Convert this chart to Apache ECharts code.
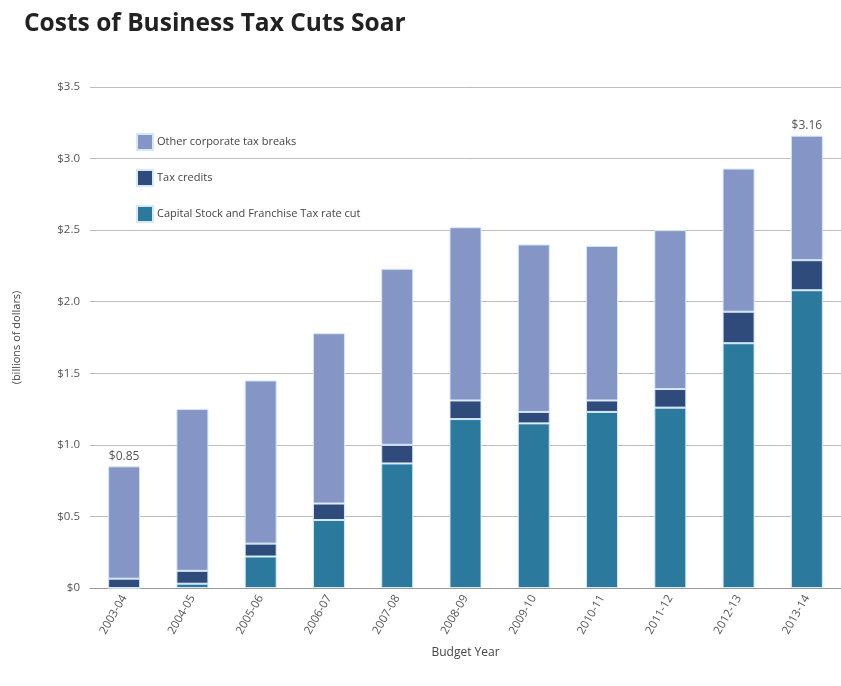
<!DOCTYPE html>
<html>
<head>
<meta charset="utf-8">
<script src="https://cdn.jsdelivr.net/npm/echarts@6/dist/echarts.min.js"></script>
<style>
html,body{margin:0;padding:0;background:#fff;}
#chart{width:841px;height:686px;}
</style>
</head>
<body>
<div id="chart"></div>
<script>
var years = ['2003-04','2004-05','2005-06','2006-07','2007-08','2008-09','2009-10','2010-11','2011-12','2012-13','2013-14'];
var capitalStock = [0, 0.03, 0.22, 0.475, 0.87, 1.18, 1.15, 1.23, 1.26, 1.71, 2.08];
var taxCredits = [0.065, 0.09, 0.09, 0.115, 0.13, 0.13, 0.08, 0.08, 0.13, 0.22, 0.21];
var otherBreaks = [0.785, 1.13, 1.14, 1.19, 1.23, 1.21, 1.17, 1.08, 1.11, 1.00, 0.87];
var labeledYears = ['2003-04', '2013-14'];
var yTicks = ['$0','$0.5','$1.0','$1.5','$2.0','$2.5','$3.0','$3.5'];

var chart = echarts.init(document.getElementById('chart'));
var border = {borderColor:'#d4e8f6', borderWidth:1};
function style(c){ return Object.assign({color:c}, border); }

chart.setOption({
  animation:false,
  title:{
    text:'Costs of Business Tax Cuts Soar',
    left:19, top:7,
    textStyle:{fontFamily:'Open Sans', fontWeight:'bold', fontSize:24.5, color:'#222'}
  },
  legend:{
    orient:'vertical', left:131, top:128, itemGap:18,
    itemWidth:16, itemHeight:16, icon:'rect',
    data:['Other corporate tax breaks','Tax credits','Capital Stock and Franchise Tax rate cut'],
    textStyle:{fontFamily:'Open Sans', fontSize:11, color:'#444', padding:[0,0,0,-1]}
  },
  grid:{left:90, top:87, width:755, height:501},
  xAxis:{
    type:'category', data:years,
    name:'Budget Year', nameLocation:'middle', nameGap:59,
    nameTextStyle:{fontFamily:'Open Sans', fontSize:12, color:'#444'},
    axisLine:{lineStyle:{color:'#999', width:1}},
    axisTick:{inside:true, length:7, lineStyle:{color:'#999'}},
    axisLabel:{rotate:60, fontFamily:'Open Sans', fontSize:11.5, color:'#555', margin:8}
  },
  yAxis:{
    type:'value', min:0, max:3.5, interval:0.5,
    name:'(billions of dollars)', nameLocation:'middle', nameGap:68,
    nameTextStyle:{fontFamily:'Open Sans', fontSize:11, color:'#444'},
    axisLine:{show:false}, axisTick:{show:false},
    axisLabel:{fontFamily:'Open Sans', fontSize:11.5, color:'#555', margin:10,
      formatter:function(v){ return yTicks[Math.round(v/0.5)]; }},
    splitLine:{lineStyle:{color:'#bdbdbd', width:1}}
  },
  series:[
    {name:'Capital Stock and Franchise Tax rate cut', type:'bar', stack:'t', barWidth:32,
      itemStyle:style('#2b7a9d'), data:capitalStock},
    {name:'Tax credits', type:'bar', stack:'t', barWidth:32,
      itemStyle:style('#2f4b7b'), data:taxCredits},
    {name:'Other corporate tax breaks', type:'bar', stack:'t', barWidth:32,
      itemStyle:style('#8595c5'),
      data:otherBreaks.map(function(v,i){
        var show = labeledYears.indexOf(years[i]) >= 0;
        return {value:v, label:{show:show}};
      }),
      label:{position:'top', distance:4, fontFamily:'Open Sans', fontSize:12, color:'#555',
        formatter:function(p){
          var t = capitalStock[p.dataIndex] + taxCredits[p.dataIndex] + otherBreaks[p.dataIndex];
          return '$' + t.toFixed(2);
        }}
    }
  ]
});
</script>
</body>
</html>
